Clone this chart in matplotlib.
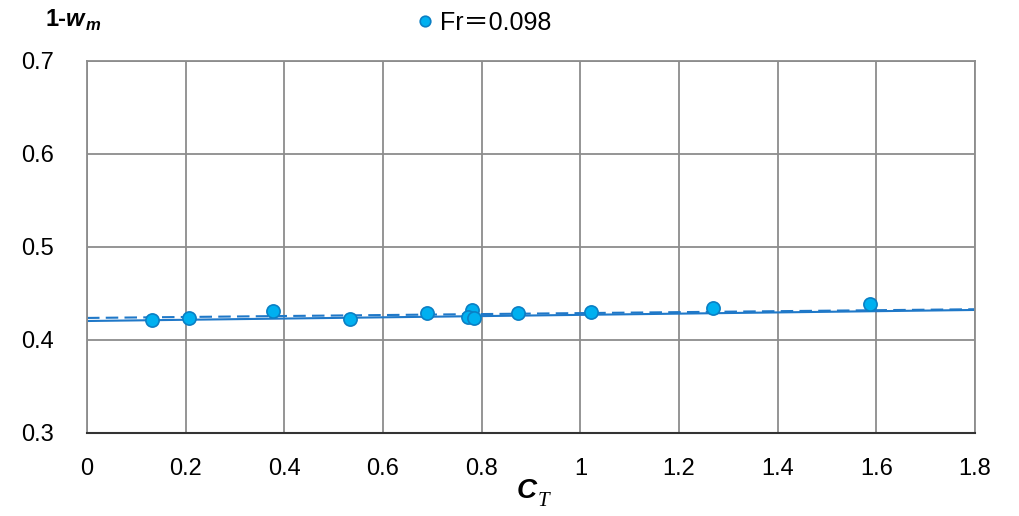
import numpy as np
import matplotlib
matplotlib.use("Agg")
import matplotlib.pyplot as plt

plt.rcParams['font.family'] = ['Liberation Sans', 'Noto Sans CJK SC', 'DejaVu Sans']

# measured points, Fr = 0.098
ct = [0.132, 0.207, 0.377, 0.533, 0.689, 0.780, 0.772, 0.785, 0.874, 1.022, 1.269, 1.587]
one_minus_wm = [0.4215, 0.4237, 0.431, 0.4226, 0.429, 0.432, 0.4247, 0.4237, 0.429, 0.430, 0.4344, 0.4387]

# trend lines (intercept, slope)
solid_fit = [0.4204, 0.0066]
dashed_fit = [0.4237, 0.0052]

xticks = [0, 0.2, 0.4, 0.6, 0.8, 1, 1.2, 1.4, 1.6, 1.8]
xtick_labels = ['0', '0.2', '0.4', '0.6', '0.8', '1', '1.2', '1.4', '1.6', '1.8']
yticks = [0.3, 0.4, 0.5, 0.6, 0.7]

fig = plt.figure(figsize=(10.2, 5.16), dpi=100)
ax = fig.add_axes([0.0853, 0.1609, 0.8706, 0.7209])

xs = np.array([0, 1.8])
ax.plot(xs, solid_fit[0] + solid_fit[1] * xs, color='#1f78c8', lw=1.5, zorder=2)
ax.plot(xs, dashed_fit[0] + dashed_fit[1] * xs, color='#1f78c8', lw=1.5, ls=(0, (6, 3)), zorder=2)
ax.plot(ct, one_minus_wm, 'o', ms=9.5, mfc='#00b0f0', mec='#0b7fc4', mew=1.2,
        ls='none', zorder=3, label='Fr\uff1d0.098')

ax.set_xlim(0, 1.8)
ax.set_ylim(0.3, 0.7)
ax.set_xticks(xticks)
ax.set_xticklabels(xtick_labels)
ax.set_yticks(yticks)
ax.set_yticklabels(['0.3', '0.4', '0.5', '0.6', '0.7'])
ax.grid(True, color='#8c8c8c', lw=1.3)
ax.set_axisbelow(True)
for s in ['top', 'right', 'left']:
    ax.spines[s].set_color('#8c8c8c')
    ax.spines[s].set_linewidth(1.3)
ax.spines['bottom'].set_color('#333333')
ax.spines['bottom'].set_linewidth(1.5)
ax.tick_params(length=0, labelsize=17)
ax.tick_params(axis='x', pad=18)
ax.tick_params(axis='y', pad=24)

fig.text(0.045, 0.963, '1-', fontsize=17, fontweight='bold', va='center')
fig.text(0.065, 0.963, 'w', fontsize=17, fontweight='bold', style='italic', va='center')
fig.text(0.084, 0.951, 'm', fontsize=12, fontweight='bold', style='italic', va='center')
fig.text(0.507, 0.048, 'C', fontsize=20, fontweight='bold', style='italic', va='center')
fig.text(0.527, 0.028, 'T', fontsize=15, style='italic', family='Liberation Serif', va='center')

leg = fig.legend(loc='center', bbox_to_anchor=(0.472, 0.955), frameon=False, fontsize=18,
                 handletextpad=0.1, markerscale=0.8, handlelength=1.0)
plt.savefig('out.png', dpi=100)
